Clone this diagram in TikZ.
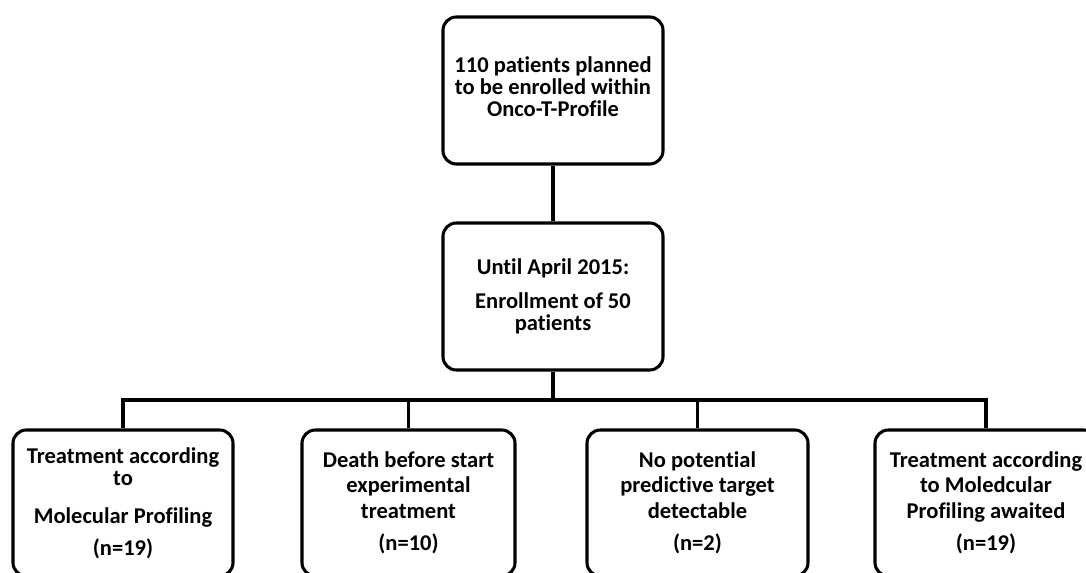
\documentclass[tikz,border=0pt]{standalone}
\usepackage{fontspec}
\setmainfont{Carlito}[Ligatures=NoCommon]
\begin{document}
\begin{tikzpicture}[x=0.75pt,y=-0.75pt,
  box/.style={draw, line width=2.3pt, rounded corners=10pt, align=center,
    font=\fontsize{16.9}{16.5}\selectfont\bfseries, inner sep=0pt},
  conn/.style={line width=2.4pt}]
\useasboundingbox[fill=white] (0,0) rectangle (1086,573);
\node[box, minimum width=165pt, minimum height=110.25pt] (top) at (553,90.5)
  {110 patients planned\\to be enrolled within\\Onco-T-Profile\rule[-6pt]{0pt}{0pt}};
\node[box, minimum width=165pt, minimum height=110.25pt] (mid) at (553,296.5)
  {Until April 2015:\\[9.5pt]Enrollment of 50\\patients};
\node[box, minimum width=165pt, minimum height=109.5pt] (b1) at (123,503)
  {Treatment according\\to\\[12pt]Molecular Profiling\\[7.5pt](n=19)};
\node[box, minimum width=159.75pt, minimum height=109.5pt,
  font=\fontsize{16.9}{19}\selectfont\bfseries] (b2) at (408.5,503)
  {Death before start\\experimental\\treatment\\[5.6pt](n=10)};
\node[box, minimum width=165.75pt, minimum height=109.5pt,
  font=\fontsize{16.9}{19}\selectfont\bfseries] (b3) at (697.5,503)
  {No potential\\predictive target\\detectable\\[5.6pt](n=2)};
\node[box, minimum width=166.5pt, minimum height=109.5pt,
  font=\fontsize{16.9}{19}\selectfont\bfseries] (b4) at (986,503)
  {Treatment according\\to Moledcular\\Profiling awaited\\[5.6pt](n=19)};
\coordinate (bus) at (553,400);
\draw[conn] (top.south) -- (mid.north);
\draw[conn] (mid.south) -- (bus);
\draw[conn] (b1.north) |- (bus) -| (b4.north);
\draw[conn] (b2.north) -- (b2.north |- bus);
\draw[conn] (b3.north) -- (b3.north |- bus);
\end{tikzpicture}
\end{document}
